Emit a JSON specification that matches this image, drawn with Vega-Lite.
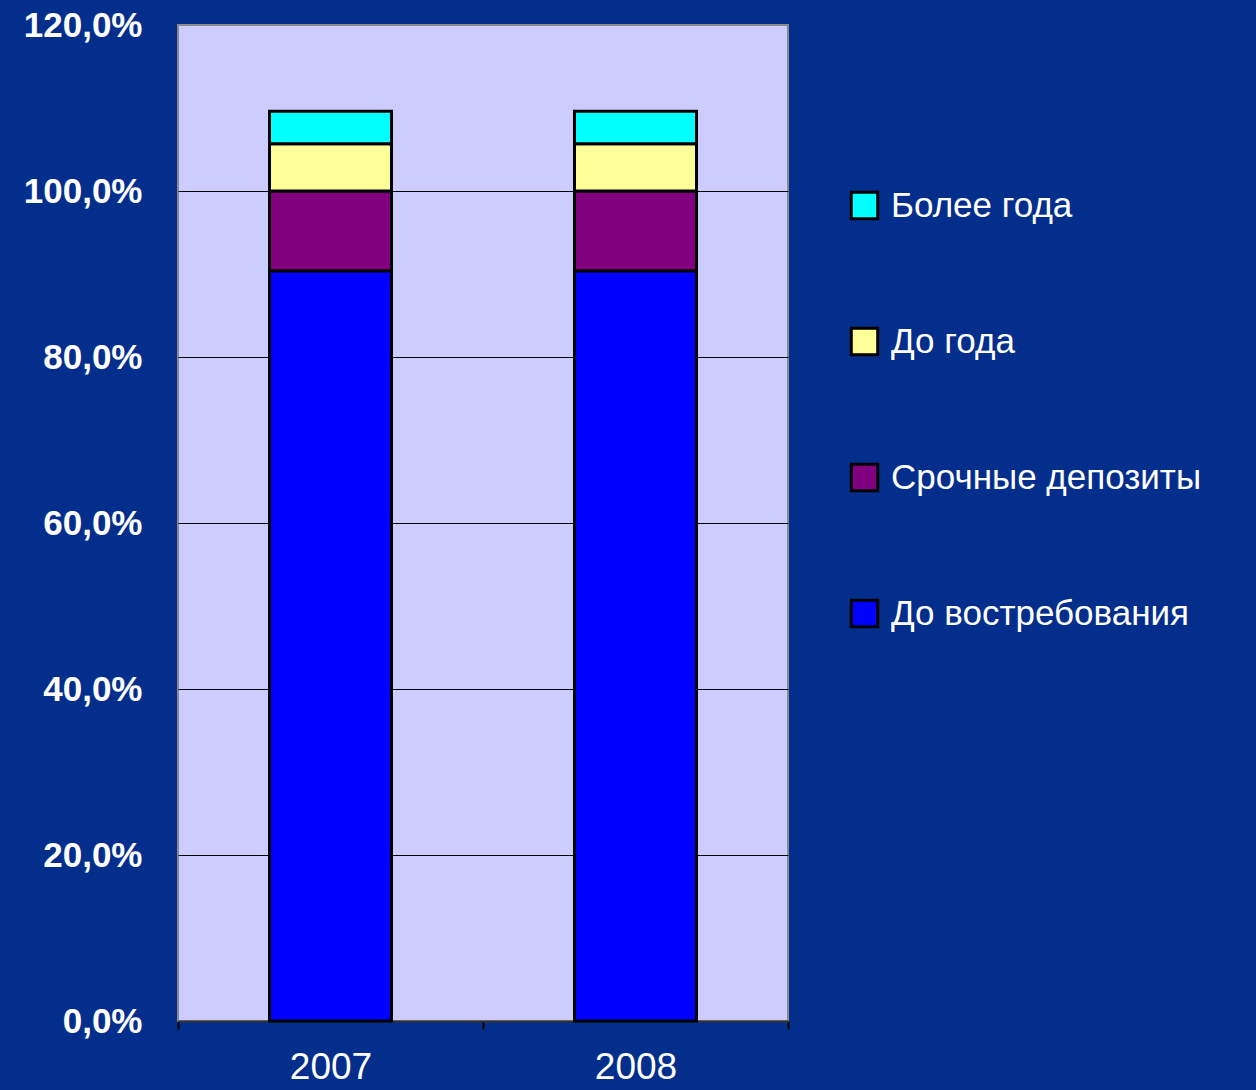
{
  "$schema": "https://vega.github.io/schema/vega-lite/v6.json",
  "autosize": "none",
  "width": 610,
  "height": 996,
  "padding": {"left": 178, "top": 25, "right": 468, "bottom": 69},
  "background": "#042e8c",
  "data": {
    "values": [
      {"year": "2007", "type": "До востребования", "ord": 1, "value": 90.4},
      {"year": "2007", "type": "Срочные депозиты", "ord": 2, "value": 9.6},
      {"year": "2007", "type": "До года", "ord": 3, "value": 5.7},
      {"year": "2007", "type": "Более года", "ord": 4, "value": 3.9},
      {"year": "2008", "type": "До востребования", "ord": 1, "value": 90.4},
      {"year": "2008", "type": "Срочные депозиты", "ord": 2, "value": 9.6},
      {"year": "2008", "type": "До года", "ord": 3, "value": 5.7},
      {"year": "2008", "type": "Более года", "ord": 4, "value": 3.9}
    ]
  },
  "mark": {"type": "bar", "width": {"band": 0.4}, "stroke": "#000000", "strokeWidth": 3},
  "encoding": {
    "x": {
      "field": "year", "type": "nominal",
      "scale": {"paddingInner": 0, "paddingOuter": 0},
      "axis": {
        "title": null, "labelAngle": 0, "tickBand": "extent", "tickSize": 8,
        "tickColor": "#000000", "tickWidth": 2, "domainColor": "#333333", "domainWidth": 2,
        "labelColor": "#ffffff", "labelFont": "Liberation Sans", "labelFontSize": 37,
        "labelPadding": 20, "grid": false
      }
    },
    "y": {
      "field": "value", "type": "quantitative", "stack": "zero",
      "scale": {"domain": [0, 120], "nice": false},
      "axis": {
        "title": null, "values": [0, 20, 40, 60, 80, 100, 120], "ticks": false, "domain": false,
        "labelColor": "#ffffff", "labelFont": "Liberation Sans", "labelFontSize": 35, "labelFontWeight": "bold",
        "labelPadding": 36,
        "labelExpr": "replace(format(datum.value, '.1f'), '.', ',') + '%'",
        "gridColor": {"condition": {"test": "datum.value == 120 || datum.value == 0", "value": "transparent"}, "value": "#000000"},
        "gridWidth": 1
      }
    },
    "color": {
      "field": "type", "type": "nominal",
      "scale": {
        "domain": ["Более года", "До года", "Срочные депозиты", "До востребования"],
        "range": ["#00ffff", "#ffff99", "#800080", "#0000ff"]
      },
      "legend": {
        "title": null, "orient": "none", "legendX": 669, "legendY": 163,
        "symbolType": "square", "symbolSize": 700, "symbolStrokeColor": "#000000", "symbolStrokeWidth": 3,
        "symbolOpacity": 1,
        "labelColor": "#ffffff", "labelFont": "Liberation Sans", "labelFontSize": 35,
        "labelOffset": 9, "rowPadding": 97, "labelLimit": 500
      }
    },
    "order": {"field": "ord", "type": "quantitative", "sort": "ascending"}
  },
  "config": {
    "view": {"fill": "#ccccff", "stroke": "#8a8a8a", "strokeWidth": 2}
  }
}
